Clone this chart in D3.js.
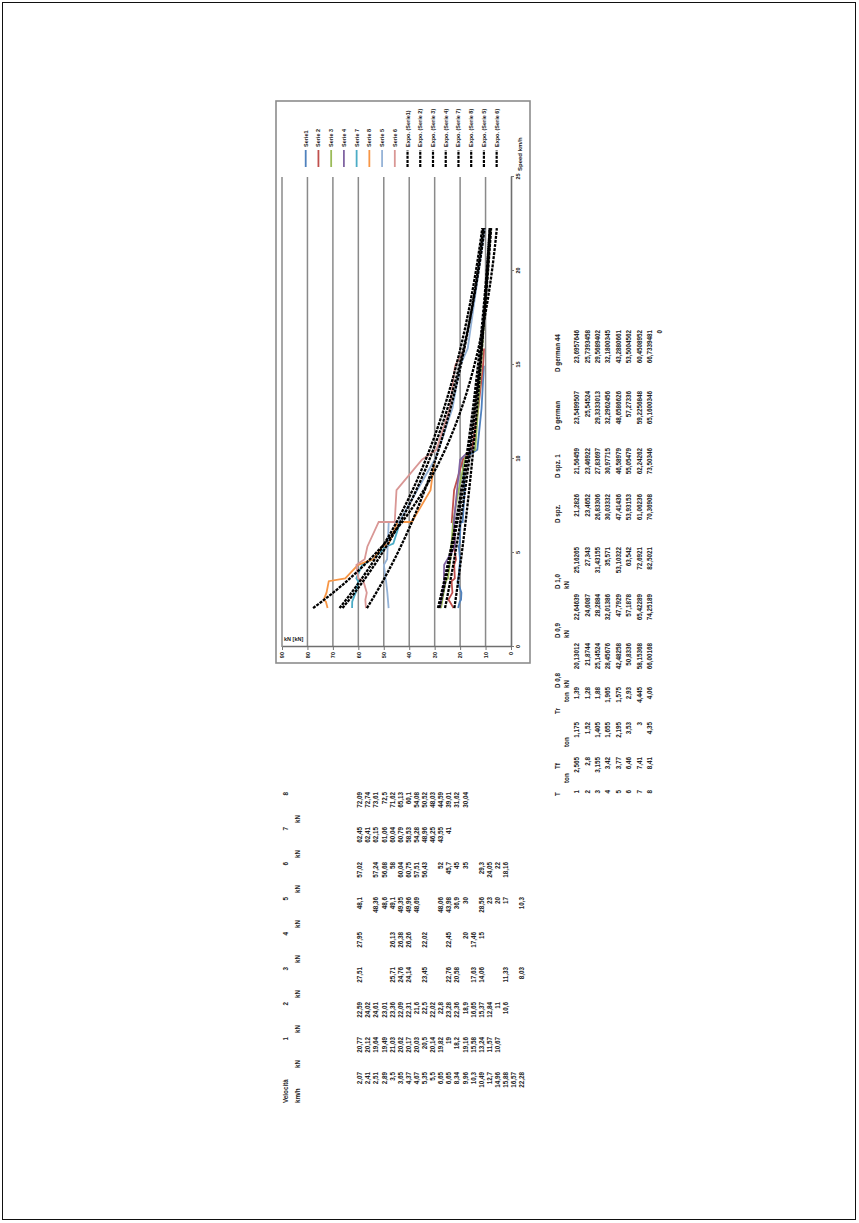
<!DOCTYPE html>
<html>
<head>
<meta charset="utf-8">
<script src="https://cdn.jsdelivr.net/npm/d3@7"></script>
<style>
body{margin:0;background:#fff}
svg{display:block}
text{font-family:"Liberation Sans",Arial,sans-serif;font-weight:bold;fill:#222}
</style>
</head>
<body>
<svg id="page"></svg>
<script>
// speed column (km/h) and the 8 test series (kN), blanks = null
var speed = [2.07, 2.41, 2.51, 2.89, 3.5, 3.65, 4.37, 4.67, 5.35, 5.5, 6.65, 6.65, 8.34, 9.96, 10.3, 10.49, 12.7, 14.96, 15.88, 16.57, 22.28];
var serie1 = [20.77, 20.12, 19.64, 19.49, 21.03, 20.62, 20.17, 20.03, 20.5, 20.14, 19.82, 19, 18.2, 19.16, 15.58, 13.24, 11.57, 10.67, null, null, null];
var serie2 = [22.59, 24.02, 24.61, 23.01, 23.36, 22.09, 22.31, 21.6, 22.5, 22.02, 22.8, 23.28, 22.36, 18.9, 16.65, 15.37, 12.84, 11, 10.6, null, null];
var serie3 = [27.51, null, null, null, 25.71, 24.76, 24.14, null, 23.45, null, null, 22.76, 20.58, null, 17.63, 14.06, null, null, 11.33, null, 8.03];
var serie4 = [27.95, null, null, null, 26.13, 26.38, 26.26, null, 22.02, null, null, 22.45, null, 20, 17.46, 15, null, null, null, null, null];
var serie5 = [48.1, null, 48.36, 48.6, 49.1, 49.35, 49.96, 48.69, null, null, 48.06, 43.98, 36.9, 30, null, 28.56, 23, 20, 17, null, 10.3];
var serie6 = [57.02, null, 57.24, 56.68, 58, 60.04, 60.75, 57.51, 56.43, null, 52, 45.7, 45, 35, null, 29.3, 24.05, 22, 18.16, null, null];
var serie7 = [62.45, 62.41, 62.15, 61.06, 60.04, 60.79, 58.53, 54.28, 48.96, 46.25, 43.55, 41, null, null, null, null, null, null, null, null, null];
var serie8 = [72.09, 72.74, 73.61, 72.5, 71.62, 65.13, 60.1, 54.08, 50.52, 48.03, 44.59, 39.01, 31.62, 30.04, null, null, null, null, null, null, null];

// legend order as in the sheet
var seriesNames = ["Serie1", "Serie 2", "Serie 3", "Serie 4", "Serie 7", "Serie 8", "Serie 5", "Serie 6"];
var seriesValues = [serie1, serie2, serie3, serie4, serie7, serie8, serie5, serie6];
var seriesColors = ["#4f81bd", "#c0504d", "#9bbb59", "#8064a2", "#4bacc6", "#f79646", "#95b3d7", "#d99795"];

var speedTicks = [0, 5, 10, 15, 20, 25];
var dTicks = [0, 10, 20, 30, 40, 50, 60, 70, 80, 90];

// small tables on the right
var tIndex = [1, 2, 3, 4, 5, 6, 7, 8];
var tF = [2.565, 2.8, 3.155, 3.42, 3.77, 6.46, 7.41, 8.41];
var tR = [1.175, 1.52, 1.405, 1.655, 2.195, 3.53, 3, 4.35];
var tT = [1.39, 1.28, 1.88, 1.965, 1.575, 2.93, 4.445, 4.06];
var d08 = [20.13012, 21.8744, 25.14524, 28.45676, 42.48258, 50.8336, 58.15368, 66.00168];
var d09 = [22.64639, 24.6087, 28.2884, 32.01386, 47.7929, 57.1878, 65.42289, 74.25189];
var d10 = [25.16265, 27.343, 31.43155, 35.571, 53.10322, 63.542, 72.6921, 82.5021];
var dSpz = [21.2826, 23.4652, 26.83306, 30.03332, 47.41436, 53.93153, 61.06236, 70.36908];
var dSpz1 = [21.56459, 23.46922, 27.83697, 30.97715, 46.58979, 55.05479, 62.24262, 73.50346];
var dGerman = [23.5499507, 25.54524, 29.3333013, 32.2962456, 48.6586626, 57.27336, 59.2256848, 65.1600346];
var dGerman44 = [23.6957646, 25.7393458, 29.5689402, 32.1800345, 43.2880661, 53.5004562, 60.4508952, 66.7339481, 0];

var W = 859, H = 1223;
var svg = d3.select("#page").attr("width", W).attr("height", H);

svg.append("rect").attr("x", 2.5).attr("y", 2.5).attr("width", 853).attr("height", 1217)
    .attr("fill", "none").attr("stroke", "#111").attr("stroke-width", 1);

// the sheet is printed turned a quarter turn: u runs bottom->top, v runs left->right
var g = svg.append("g").attr("transform", "translate(0," + H + ") rotate(-90)");

function fmt(d){
    if(d == null) return "";
    return String(d).replace(".", ",");
}

// ---------- chart ----------
var x = d3.scaleLinear().domain([0, 25]).range([576, 1046]);
var y = d3.scaleLinear().domain([0, 90]).range([511, 282]);

g.append("rect").attr("x", 560).attr("y", 276).attr("width", 562).attr("height", 254)
    .attr("fill", "#fff").attr("stroke", "#8c8c8c").attr("stroke-width", 1.6);

g.selectAll(".grid").data(dTicks.slice(1)).enter().append("line")
    .attr("x1", x(0)).attr("x2", x(25))
    .attr("y1", function(d){ return y(d); }).attr("y2", function(d){ return y(d); })
    .attr("stroke", "#8a8a8a").attr("stroke-width", 1.5);

var ax = g.append("g").attr("transform", "translate(0," + y(0) + ")")
    .call(d3.axisBottom(x).tickValues(speedTicks).tickSize(3).tickSizeOuter(0).tickPadding(2));
var ay = g.append("g").attr("transform", "translate(" + x(0) + ",0)")
    .call(d3.axisLeft(y).tickValues(dTicks).tickSize(3).tickSizeOuter(0).tickPadding(2));
[ax, ay].forEach(function(a){
    a.select(".domain").attr("stroke", "#6f6f6f").attr("stroke-width", 1.6);
    a.selectAll(".tick line").attr("stroke", "#777");
    a.selectAll("text").attr("font-size", 5.5).attr("font-family", "Liberation Sans, Arial, sans-serif")
        .attr("font-weight", "bold").attr("fill", "#333");
});

var line = d3.line().x(function(d){ return x(d[0]); }).y(function(d){ return y(d[1]); });

seriesValues.forEach(function(vals, k){
    var pts = [];
    speed.forEach(function(v, i){ if(vals[i] != null) pts.push([v, vals[i]]); });
    g.append("path").datum(pts).attr("d", line)
        .attr("fill", "none").attr("stroke", seriesColors[k]).attr("stroke-width", 1.8);
});

// exponential trendlines (least squares on ln y), over the whole speed range
var sMin = d3.min(speed), sMax = d3.max(speed);
seriesValues.forEach(function(vals){
    var pts = [];
    speed.forEach(function(v, i){ if(vals[i] != null) pts.push([v, Math.log(vals[i])]); });
    var n = pts.length;
    var sx = d3.sum(pts, function(p){ return p[0]; });
    var sy = d3.sum(pts, function(p){ return p[1]; });
    var sxx = d3.sum(pts, function(p){ return p[0] * p[0]; });
    var sxy = d3.sum(pts, function(p){ return p[0] * p[1]; });
    var b = (n * sxy - sx * sy) / (n * sxx - sx * sx);
    var a = Math.exp((sy - b * sx) / n);
    var curve = d3.range(61).map(function(k){
        var v = sMin + (sMax - sMin) * k / 60;
        return [v, a * Math.exp(b * v)];
    });
    g.append("path").datum(curve).attr("d", line)
        .attr("fill", "none").attr("stroke", "#000").attr("stroke-width", 2.3)
        .attr("stroke-dasharray", "3,1.1");
});

// legend
var legendItems = seriesNames.map(function(n, i){ return {name: n, color: seriesColors[i], trend: false}; })
    .concat(seriesNames.map(function(n){ return {name: "Expo. (" + n + ")", color: "#000", trend: true}; }));
var leg = g.selectAll(".leg").data(legendItems).enter().append("g")
    .attr("transform", function(d, i){ return "translate(0," + (305.7 + i * 12.73) + ")"; });
leg.append("line").attr("x1", 1056).attr("x2", 1073)
    .attr("stroke", function(d){ return d.color; })
    .attr("stroke-width", function(d){ return d.trend ? 2.2 : 1.8; })
    .attr("stroke-dasharray", function(d){ return d.trend ? "3,1.1" : null; });
leg.append("text").attr("x", 1076).attr("y", 2).attr("font-size", 5.5)
    .text(function(d){ return d.name; });

g.append("text").attr("x", 1052).attr("y", 521.5).attr("font-size", 6).text("Speed km/h");

g.append("text").attr("transform", "translate(582,284) rotate(90)")
    .attr("font-size", 5.5).attr("fill", "#5a4a3a").text("kN [kN]");

// ---------- speed table (left part of the sheet) ----------
var rowV0 = 360, rowStep = 8.1;
var fs = 6.3;
function column(vals, uEnd, v0, step){
    g.append("g").selectAll("text").data(vals).enter().append("text")
        .attr("x", uEnd).attr("y", function(d, i){ return v0 + step * i + 2.2; })
        .attr("text-anchor", "end").attr("font-size", fs)
        .text(fmt);
}
function label(txt, u, v, anchor){
    g.append("text").attr("x", u).attr("y", v + 2.2).attr("font-size", fs)
        .attr("text-anchor", anchor || "start").text(txt);
}

label("Velocità", 120, 286);
label("km/h", 120, 298);
column(speed, 151, rowV0, rowStep);
var tableCols = [serie1, serie2, serie3, serie4, serie5, serie6, serie7, serie8];
tableCols.forEach(function(vals, k){
    var uEnd = 186 + 35 * k;
    label(String(k + 1), uEnd, 286, "end");
    label("kN", uEnd - 31, 298);
    column(vals, uEnd, rowV0, rowStep);
});

// ---------- T table ----------
var rV0 = 577, rStep = 10.4;
label("T", 427, 558);
label("ton", 440, 567);
label("Tf", 454, 558);
label("ton", 476, 567);
label("Tr", 509, 558);
label("ton", 521, 567);
column(tIndex, 433, rV0, rStep);
column(tF, 466, rV0, rStep);
column(tR, 501, rV0, rStep);
column(tT, 536, rV0, rStep);

// ---------- D tables ----------
label("D 0,8", 535, 558);
label("kN", 535, 567);
label("D 0,9", 585, 558);
label("kN", 585, 567);
label("D 1,0", 634, 558);
label("kN", 634, 567);
column(d08, 580, rV0, rStep);
column(d09, 629, rV0, rStep);
column(d10, 676, rV0, rStep);

label("D spz.", 700, 558);
label("D spz. 1", 745, 558);
label("D german", 793, 558);
label("D german 44", 851, 558);
column(dSpz, 729, rV0, rStep);
column(dSpz1, 775, rV0, rStep);
column(dGerman, 832, rV0, rStep);
column(dGerman44, 893, rV0, rStep);
</script>
</body>
</html>
